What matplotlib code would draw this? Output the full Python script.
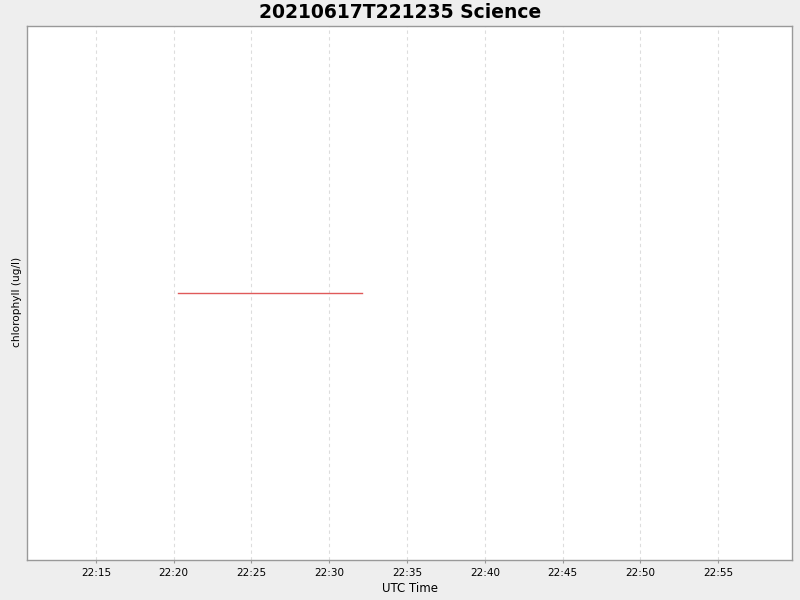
import matplotlib
matplotlib.use("Agg")
import matplotlib.pyplot as plt
import matplotlib.dates as mdates
import pandas as pd

title = "20210617T221235 Science"
y_label = "chlorophyll (ug/l)"
x_label = "UTC Time"
times = ["2021-06-17 22:20:17", "2021-06-17 22:32:07"]
chlorophyll = [0.0, 0.0]
x_limits = ["2021-06-17 22:10:34", "2021-06-17 22:59:45"]

t = pd.to_datetime(times)
xl = pd.to_datetime(x_limits)

fig = plt.figure(figsize=(8, 6), dpi=100, facecolor="#eeeeee")
ax = fig.add_axes([27/800, 40/600, 765/800, 534/600])
ax.set_facecolor("white")
ax.plot(t, chlorophyll, color="#e05a5a", linewidth=1.0)
ax.set_xlim(xl[0], xl[1])
ax.set_ylim(-1, 1)
ax.set_yticks([])
ax.xaxis.set_major_locator(mdates.MinuteLocator(byminute=range(0, 60, 5)))
ax.xaxis.set_major_formatter(mdates.DateFormatter("%H:%M"))
ax.tick_params(axis="x", labelsize=7.5, length=2, color="#999999", pad=4)
ax.grid(axis="x", color="#dddddd", linestyle=(0, (3, 3)), linewidth=0.8)
for s in ax.spines.values():
    s.set_color("#999999")
    s.set_linewidth(1.0)
ax.set_xlabel(x_label, fontsize=8.5, labelpad=3)
ax.set_ylabel(y_label, fontsize=7.6)
ax.yaxis.set_label_coords(-0.006, 0.484)
fig.suptitle(title, fontsize=13.5, fontweight="bold", y=0.995, va="top")
fig.savefig("out.png", dpi=100, facecolor=fig.get_facecolor())
